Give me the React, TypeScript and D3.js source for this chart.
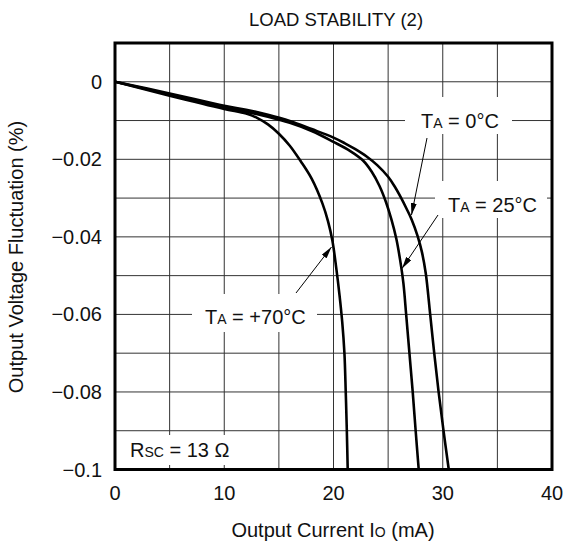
import React from "react";
import * as d3 from "d3";

const title = "LOAD STABILITY (2)";
const xTickValues = [0, 10, 20, 30, 40];
const yTickValues = [0, -0.02, -0.04, -0.06, -0.08, -0.1];
const yTickLabels = ["0", "\u22120.02", "\u22120.04", "\u22120.06", "\u22120.08", "\u22120.1"];

// [current mA, fluctuation %]
const curve70: [number, number][] = [
  [0, 0], [5, -0.0036], [10, -0.007], [12, -0.0082], [13, -0.0093], [14, -0.011],
  [15, -0.0134], [16, -0.0165], [17, -0.0205], [18, -0.025], [19, -0.0315],
  [19.5, -0.036], [19.9, -0.041], [20.25, -0.048], [20.55, -0.055], [20.8, -0.062],
  [21.0, -0.07], [21.12, -0.08], [21.22, -0.09], [21.3, -0.1],
];
const curve25: [number, number][] = [
  [0, 0], [5, -0.0033], [10, -0.0066], [12, -0.0077], [14, -0.009], [16, -0.0106],
  [18, -0.0127], [20, -0.0155], [21.5, -0.0178], [22.7, -0.0203], [23.5, -0.0232],
  [24.2, -0.0268], [24.8, -0.031], [25.3, -0.0355], [25.75, -0.0405], [26.1, -0.046],
  [26.4, -0.052], [26.65, -0.06], [26.95, -0.07], [27.25, -0.08], [27.52, -0.09],
  [27.8, -0.1],
];
const curve0: [number, number][] = [
  [0, 0], [5, -0.003], [10, -0.0062], [12, -0.0072], [14, -0.0085], [16, -0.0101],
  [18, -0.0122], [20, -0.0144], [21, -0.0158], [22, -0.0174], [23, -0.0192],
  [24, -0.0215], [25, -0.0245], [25.6, -0.027], [26.2, -0.03], [26.7, -0.0328],
  [27.15, -0.0355], [27.7, -0.0398], [28.1, -0.044], [28.45, -0.0495], [28.85, -0.06],
  [29.22, -0.07], [29.62, -0.08], [30.07, -0.09], [30.55, -0.1],
];

const W = 565;
const H = 546;
const FONT = "'Liberation Sans', Arial, Helvetica, sans-serif";

export default function App() {
  const x = d3.scaleLinear().domain([0, 40]).range([115, 552]);
  const y = d3.scaleLinear().domain([0.01, -0.1]).range([43, 469.5]);
  const line = d3
    .line<[number, number]>()
    .x((d) => x(d[0]))
    .y((d) => y(d[1]))
    .curve(d3.curveCatmullRom.alpha(0.5));

  const xGrid = d3.range(0, 40.001, 5);
  const yGrid = d3.range(0, 11).map((i) => -i * 0.01);

  const subSize = 14;
  const lblSize = 20;

  return (
    <svg width={W} height={H} style={{ display: "block", position: "absolute", left: 0, top: 0 }}>
      <defs>
        <clipPath id="plot">
          <rect x={x(0)} y={y(0.01)} width={x(40) - x(0)} height={y(-0.1) - y(0.01)} />
        </clipPath>
        <marker id="ah" viewBox="0 0 12 6" refX="12" refY="3" markerWidth="12" markerHeight="6" markerUnits="userSpaceOnUse" orient="auto">
          <path d="M0,0 L12,3 L0,6 Z" fill="#000" />
        </marker>
      </defs>
      <rect x={0} y={0} width={W} height={H} fill="#fff" />
      <text x={336} y={26} textAnchor="middle" fontFamily={FONT} fontSize={18.5} fill="#111">
        {title}
      </text>
      {/* grid */}
      <g stroke="#333" strokeWidth={1}>
        {xGrid.map((v) => (
          <line key={"gx" + v} x1={x(v)} x2={x(v)} y1={y(0.01)} y2={y(-0.1)} />
        ))}
        {yGrid.map((v) => (
          <line key={"gy" + v} x1={x(0)} x2={x(40)} y1={y(v)} y2={y(v)} />
        ))}
      </g>
      {/* label backgrounds */}
      <g fill="#fff">
        <rect x={405} y={97} width={107} height={37} />
        <rect x={435} y={181} width={112} height={37} />
        <rect x={192} y={294} width={125} height={38} />
        <rect x={125} y={435} width={112} height={30} />
      </g>
      {/* curves */}
      <g clipPath="url(#plot)" fill="none" stroke="#000" strokeWidth={2.6} strokeLinejoin="round">
        <path d={line(curve70) || ""} />
        <path d={line(curve25) || ""} />
        <path d={line(curve0) || ""} />
      </g>
      {/* border */}
      <rect x={x(0)} y={y(0.01)} width={x(40) - x(0)} height={y(-0.1) - y(0.01)} fill="none" stroke="#000" strokeWidth={3} />
      {/* arrows */}
      <g stroke="#000" strokeWidth={1} markerEnd="url(#ah)">
        <line x1={427} y1={138} x2={411.5} y2={215} />
        <line x1={438} y1={215} x2={402} y2={268.5} />
        <line x1={296} y1={293} x2={331.5} y2={247} />
      </g>
      {/* annotations */}
      <g fontFamily={FONT} fontSize={lblSize} fill="#111">
        <text x={421} y={128}>
          T<tspan fontSize={subSize}>A</tspan> = 0°C
        </text>
        <text x={448} y={212}>
          T<tspan fontSize={subSize}>A</tspan> = 25°C
        </text>
        <text x={205} y={324}>
          T<tspan fontSize={subSize}>A</tspan> = +70°C
        </text>
        <text x={130} y={457}>
          R<tspan fontSize={subSize}>SC</tspan> = 13 Ω
        </text>
      </g>
      {/* tick labels */}
      <g fontFamily={FONT} fontSize={20} fill="#111">
        {xTickValues.map((v) => (
          <text key={"xt" + v} x={x(v)} y={500} textAnchor="middle">
            {v}
          </text>
        ))}
        {yTickValues.map((v, i) => (
          <text key={"yt" + v} x={102} y={y(v) + 7} textAnchor="end">
            {yTickLabels[i]}
          </text>
        ))}
      </g>
      {/* axis titles */}
      <text x={333} y={537} textAnchor="middle" fontFamily={FONT} fontSize={20} fill="#111">
        Output Current I<tspan fontSize={14}>O</tspan> (mA)
      </text>
      <text
        transform={`translate(23,257) rotate(-90)`}
        textAnchor="middle"
        fontFamily={FONT}
        fontSize={20}
        fill="#111"
      >
        Output Voltage Fluctuation (%)
      </text>
    </svg>
  );
}
